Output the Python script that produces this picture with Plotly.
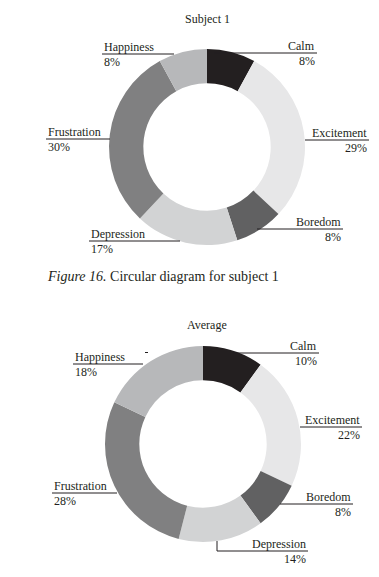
import plotly.graph_objects as go

W, H = 379, 577

emotions = ["Calm", "Excitement", "Boredom", "Depression", "Frustration", "Happiness"]
subject1_values = [8, 29, 8, 17, 30, 8]
average_values = [10, 22, 8, 14, 28, 18]
colors = ["#231f20", "#e7e7e8", "#616162", "#d2d3d4", "#808081", "#b7b8ba"]

TXT = "#231f20"
FONT = "Liberation Serif"

def dom_x(cx, r):
    return [(cx - r) / W, (cx + r) / W]

def dom_y(cy, r):
    return [(H - (cy + r)) / H, (H - (cy - r)) / H]

fig = go.Figure()

# donuts: (values, centre x, centre y, radius)
donuts = [(subject1_values, 207, 147, 98), (average_values, 203, 444, 98)]
for vals, cx, cy, r in donuts:
    fig.add_trace(go.Pie(
        labels=emotions, values=vals, hole=0.65, sort=False,
        direction="clockwise", rotation=0,
        marker=dict(colors=colors, line=dict(width=0)),
        textinfo="none", hoverinfo="label+percent", showlegend=False,
        domain=dict(x=dom_x(cx, r), y=dom_y(cy, r)),
    ))

# label layout: (line path points, text x, line y, align)
layouts = [
    {  # Subject 1
        "Calm": ([(214, 53), (317, 53)], 317, 53, "right"),
        "Excitement": ([(305, 140), (369, 140)], 369, 140, "right"),
        "Boredom": ([(257, 229), (343, 229)], 343, 229, "right"),
        "Depression": ([(89, 241), (180, 241)], 89, 241, "left"),
        "Frustration": ([(46, 139), (110, 139)], 46, 139, "left"),
        "Happiness": ([(102, 54), (174, 54)], 102, 54, "left"),
    },
    {  # Average
        "Calm": ([(233, 353), (319, 353)], 319, 353, "right"),
        "Excitement": ([(300, 427), (362, 427)], 362, 427, "right"),
        "Boredom": ([(280, 504), (353, 504)], 353, 504, "right"),
        "Depression": ([(217, 541), (217, 551), (308, 551)], 308, 551, "right"),
        "Frustration": ([(52, 493), (117, 493)], 52, 493, "left"),
        "Happiness": ([(73, 364), (143, 364)], 73, 364, "left"),
    },
]

shapes = []
annotations = []
for vals, lay in zip([subject1_values, average_values], layouts):
    for name, v in zip(emotions, vals):
        pts, tx, ly, align = lay[name]
        path = "M " + " L ".join(f"{x} {y}" for x, y in pts)
        shapes.append(dict(type="path", path=path, xref="x", yref="y",
                           line=dict(color=TXT, width=1)))
        xanchor = "right" if align == "right" else "left"
        annotations.append(dict(x=tx, y=ly - 7, xref="x", yref="y", text=name,
                                showarrow=False, xanchor=xanchor, yanchor="middle",
                                font=dict(family=FONT, size=12, color=TXT)))
        annotations.append(dict(x=tx, y=ly + 8, xref="x", yref="y", text=f"{v}%",
                                showarrow=False, xanchor=xanchor, yanchor="middle",
                                font=dict(family=FONT, size=12, color=TXT)))

# small stray dash in original
shapes.append(dict(type="line", x0=145, x1=148, y0=352.5, y1=352.5, xref="x", yref="y",
                   line=dict(color=TXT, width=1)))

annotations.append(dict(x=207, y=19, xref="x", yref="y", text="Subject 1", showarrow=False,
                        xanchor="center", yanchor="middle",
                        font=dict(family=FONT, size=12, color=TXT)))
annotations.append(dict(x=207, y=325, xref="x", yref="y", text="Average", showarrow=False,
                        xanchor="center", yanchor="middle",
                        font=dict(family=FONT, size=12, color=TXT)))
annotations.append(dict(x=45, y=276, xref="x", yref="y",
                        text="<i>Figure 16.</i> Circular diagram for subject 1",
                        showarrow=False, xanchor="left", yanchor="middle",
                        font=dict(family=FONT, size=14, color=TXT)))

fig.update_layout(
    width=W, height=H, margin=dict(l=0, r=0, t=0, b=0),
    paper_bgcolor="white", plot_bgcolor="rgba(0,0,0,0)",
    xaxis=dict(range=[0, W], visible=False, fixedrange=True),
    yaxis=dict(range=[H, 0], visible=False, fixedrange=True),
    shapes=shapes, annotations=annotations,
)

fig.write_html("out.html", config={"displayModeBar": False},
               post_script="document.body.style.margin='0';document.body.style.overflow='hidden';")
